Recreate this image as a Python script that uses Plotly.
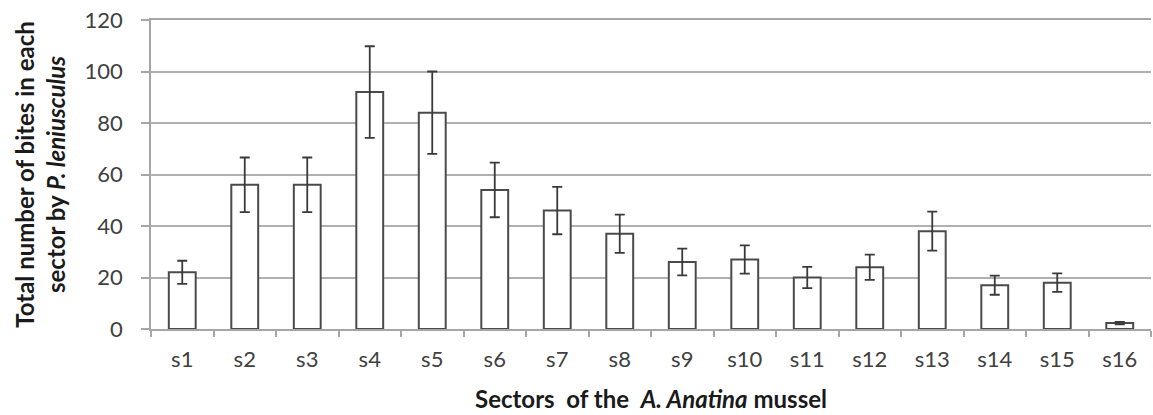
import plotly.graph_objects as go

sectors = ["s1", "s2", "s3", "s4", "s5", "s6", "s7", "s8", "s9", "s10", "s11", "s12", "s13", "s14", "s15", "s16"]
bites = [22, 56, 56, 92, 84, 54, 46, 37, 26, 27, 20, 24, 38, 17, 18, 2.3]
errors = [4.5, 10.6, 10.6, 17.8, 16, 10.6, 9.2, 7.4, 5.2, 5.5, 4.1, 4.9, 7.6, 3.7, 3.6, 0.5]
y_ticks = [0, 20, 40, 60, 80, 100, 120]

FONT = "Lato"
fig = go.Figure()
fig.add_trace(go.Bar(
    x=sectors, y=bites, width=0.43,
    marker=dict(color="white", line=dict(color="#4a4a4a", width=2)),
    error_y=dict(type="data", array=errors, visible=True,
                 color="#3a3a3a", thickness=1.8, width=5),
))

fig.update_layout(
    width=1153, height=415,
    margin=dict(l=151, r=2, t=20, b=86, autoexpand=False),
    paper_bgcolor="white", plot_bgcolor="white",
    showlegend=False,
    font=dict(family=FONT, size=22, color="#404040"),
)
fig.update_xaxes(
    type="category",
    showline=True, linecolor="#a6a6a6", linewidth=1.5, mirror=True,
    ticks="outside", tickson="boundaries", ticklen=6, tickcolor="#a6a6a6", tickwidth=1.5,
    tickfont=dict(family=FONT, size=22, color="#404040"),
    ticklabelstandoff=10,
    showgrid=False,
    title=dict(text="<b>Sectors  of the  <i>A. Anatina</i> mussel</b>",
               font=dict(family=FONT, size=24, color="#1a1a1a"), standoff=20),
)
fig.update_yaxes(
    range=[0, 120], tickvals=y_ticks,
    showline=True, linecolor="#a6a6a6", linewidth=1.5,
    ticks="outside", ticklen=8, tickcolor="#a6a6a6", tickwidth=1.5,
    ticklabelstandoff=14,
    showgrid=True, gridcolor="#b0b0b0", gridwidth=1.5,
    zeroline=False,
    tickfont=dict(family=FONT, size=22, color="#404040"),
    title=dict(text="<b>Total number of bites in each<br>sector by <i>P. leniusculus</i></b>",
               font=dict(family=FONT, size=24, color="#1a1a1a"), standoff=12),
)

# remove the browser's default 8px body margin so the figure fills the window exactly
fig.write_html("out.html", config={"displayModeBar": False},
               post_script="document.body.style.margin='0';")
